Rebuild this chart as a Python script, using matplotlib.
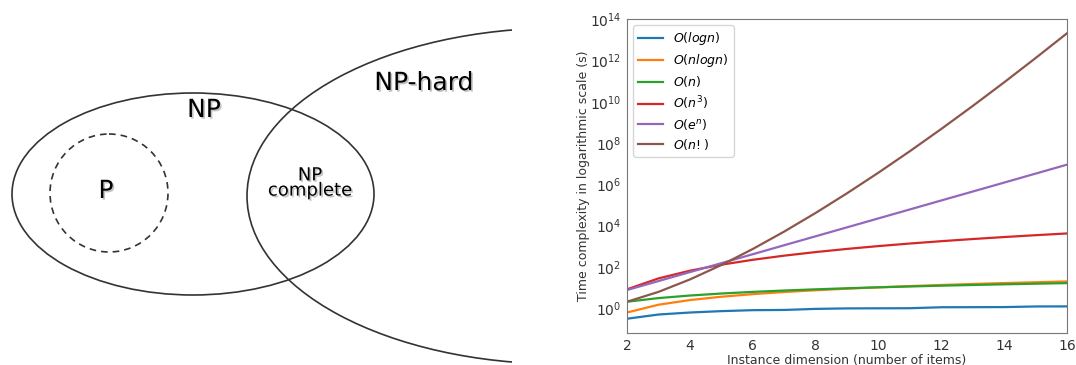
import numpy as np
import matplotlib
matplotlib.use("Agg")
import matplotlib.pyplot as plt
from matplotlib.patches import Ellipse
import matplotlib.patheffects as pe

# instance sizes and values
n_items = [2, 3, 4, 5, 6, 7, 8, 9, 10, 11, 12, 13, 14, 15, 16]
t_logn = [0.30, 0.48, 0.60, 0.70, 0.78, 0.80, 0.90, 0.95, 0.96, 0.97, 1.08, 1.09, 1.10, 1.18, 1.19]
t_nlogn = [0.60, 1.43, 2.41, 3.49, 4.67, 5.92, 7.22, 8.59, 10.0, 11.5, 13.0, 14.5, 16.1, 17.6, 19.3]
t_n = [2, 3, 4, 5, 6, 7, 8, 9, 10, 11, 12, 13, 14, 15, 16]
t_n3 = [8, 27, 64, 125, 216, 343, 512, 729, 1000, 1331, 1728, 2197, 2744, 3375, 4096]
t_en = [7.39, 20.1, 54.6, 148, 403, 1097, 2981, 8103, 22026, 59874,
        1.63e5, 4.42e5, 1.20e6, 3.27e6, 8.89e6]
t_fact = [2, 6, 24, 120, 720, 5040, 40320, 362880, 3.63e6, 3.99e7,
          4.79e8, 6.23e9, 8.72e10, 1.31e12, 2.09e13]

series = [
    (t_logn, r'$O(logn)$'),
    (t_nlogn, r'$O(nlogn)$'),
    (t_n, r'$O(n)$'),
    (t_n3, r'$O(n^3)$'),
    (t_en, r'$O(e^n)$'),
    (t_fact, r'$O(n!)$'),
]

fig = plt.figure(figsize=(10.76, 3.65), dpi=100)

# --- left: complexity classes diagram (pixel coordinates) ---
ax_d = fig.add_axes([0, 0, 512 / 1076, 1])
ax_d.set_xlim(0, 512)
ax_d.set_ylim(365, 0)
ax_d.axis('off')

edge = '#333333'
ax_d.add_patch(Ellipse((193, 194), 362, 202, fill=False, ec=edge, lw=1.2))
ax_d.add_patch(Ellipse((109, 193), 118, 118, fill=False, ec=edge, lw=1.2,
                       linestyle=(0, (4, 3))))
ax_d.add_patch(Ellipse((560, 196), 626, 336, fill=False, ec=edge, lw=1.2))

shadow = [pe.withSimplePatchShadow(offset=(1.2, -1.2), shadow_rgbFace='#888888', alpha=0.5)]
ax_d.text(204, 110, 'NP', fontsize=18, ha='center', va='center', path_effects=shadow)
ax_d.text(106, 191, 'P', fontsize=18, ha='center', va='center', path_effects=shadow)
ax_d.text(310, 183, 'NP\ncomplete', fontsize=13, ha='center', va='center',
          linespacing=0.8, path_effects=shadow)
ax_d.text(424, 83, 'NP-hard', fontsize=18, ha='center', va='center', path_effects=shadow)

# --- right: growth of time complexity ---
ax = fig.add_axes([627 / 1076, 32 / 365, 440 / 1076, 314 / 365])
for vals, lab in series:
    ax.plot(n_items, vals, label=lab, lw=1.6)
ax.set_yscale('log')
ax.set_xlim(2, 16)
ax.set_xticks([2, 4, 6, 8, 10, 12, 14, 16])
ax.set_yticks([1e0, 1e2, 1e4, 1e6, 1e8, 1e10, 1e12, 1e14])
ax.minorticks_off()
ax.set_xlabel('Instance dimension (number of items)', fontsize=9, labelpad=1, color='#333333')
ax.set_ylabel('Time complexity in logarithmic scale (s)', fontsize=9, labelpad=0, color='#333333')
ax.tick_params(labelsize=10, colors='#333333', length=0, pad=4)
for s in ax.spines.values():
    s.set_color('#777777')
ax.legend(loc='upper left', fontsize=9, labelspacing=0.4)

fig.savefig('out.png', dpi=100)
